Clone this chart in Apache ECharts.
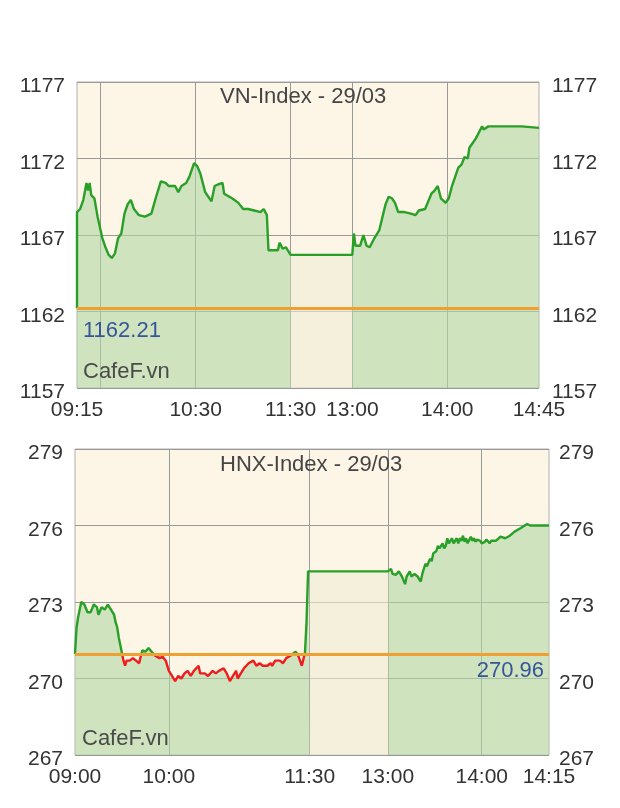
<!DOCTYPE html>
<html><head><meta charset="utf-8">
<script src="https://cdn.jsdelivr.net/npm/echarts@6/dist/echarts.min.js"></script>
<style>html,body{margin:0;padding:0;background:#fff}#c{width:620px;height:808px}</style>
</head><body><div id="c"></div>
<script>
// ---------------- DATA ----------------
const vnTitle = "VN-Index - 29/03";
const hnxTitle = "HNX-Index - 29/03";
const watermark = "CafeF.vn";
const vnRef = 1162.21;
const hnxRef = 270.96;

const vnTimes = [
 "09:15","09:15","09:17","09:19","09:21","09:22","09:23","09:24","09:26","09:28",
 "09:31","09:33","09:35","09:37","09:39","09:41","09:43","09:45","09:47","09:49",
 "09:51","09:54","09:58","10:02","10:05","10:08","10:11","10:13","10:17","10:19",
 "10:21","10:24","10:26","10:29","10:31","10:33","10:34","10:36","10:38","10:40",
 "10:42","10:44","10:47","10:48","10:53","10:57","11:00","11:03","11:07","11:11",
 "11:13","11:15","11:16","11:18","11:22","11:23","11:25","11:27","11:30",
 "13:00","13:01","13:02","13:05","13:07","13:09","13:11","13:14","13:17","13:21",
 "13:23","13:25","13:27","13:29","13:33","13:37","13:40","13:42","13:46","13:48",
 "13:50","13:52","13:54","13:56","13:59","14:01","14:03","14:05","14:07","14:09",
 "14:11","14:13","14:14","14:16","14:18","14:21","14:22","14:23","14:26","14:47",
 "14:48","14:58"
];
const vnValues = [
 1162.21,1168.5,1168.7,1169.3,1170.4,1169.9,1170.4,1169.6,1169.4,1168.2,
 1166.8,1166.2,1165.7,1165.5,1165.8,1166.8,1167.1,1168.4,1169.0,1169.3,
 1168.7,1168.3,1168.2,1168.4,1169.5,1170.5,1170.4,1170.2,1170.2,1169.8,
 1170.2,1170.4,1170.8,1171.7,1171.5,1171.0,1171.1,1169.8,1169.5,1169.2,
 1170.2,1170.3,1170.4,1169.7,1169.4,1169.1,1168.7,1168.7,1168.6,1168.5,
 1168.7,1168.3,1166.0,1166.0,1166.0,1166.5,1166.1,1166.2,1165.7,
 1165.7,1167.1,1166.3,1166.3,1167.0,1166.3,1166.2,1166.8,1167.3,1169.0,
 1169.5,1169.4,1169.1,1168.5,1168.5,1168.4,1168.3,1168.6,1168.7,1169.2,
 1169.7,1169.9,1170.2,1169.4,1169.1,1169.4,1170.2,1170.8,1171.4,1171.6,
 1172.1,1172.0,1172.7,1173.0,1173.3,1173.9,1174.1,1173.9,1174.1,1174.1,
 1174.0,1174.0
];

const hnxTimes = [
 "09:00","09:01","09:02","09:04","09:06","09:08","09:10","09:12","09:14","09:15",
 "09:17","09:19","09:21","09:23","09:25","09:26","09:27","09:28","09:30","09:31",
 "09:32","09:33","09:35","09:37","09:39","09:41","09:42","09:43","09:45","09:47",
 "09:49","09:51","09:54","09:56","09:58","10:00","10:02","10:04","10:06","10:08",
 "10:10","10:12","10:14","10:16","10:19","10:20","10:23","10:25","10:28","10:30",
 "10:32","10:35","10:37","10:39","10:41","10:43","10:44","10:46","10:48","10:51",
 "10:54","10:56","10:58","11:00","11:03","11:05","11:06","11:08","11:11","11:13",
 "11:15","11:18","11:21","11:22","11:23","11:25","11:26","11:27","11:28","11:29",
 "11:30",
 "13:00","13:01","13:02","13:03","13:05","13:07","13:09","13:11","13:12","13:14",
 "13:15","13:17","13:19","13:21","13:22","13:24","13:25","13:27","13:28","13:29",
 "13:31","13:32","13:33","13:35","13:36","13:37","13:38","13:39","13:40","13:41",
 "13:42","13:43","13:44","13:45","13:46","13:47","13:48","13:49","13:50","13:51",
 "13:53","13:54","13:55","13:56","13:57","13:59","14:00","14:02","14:03","14:05",
 "14:06","14:09","14:12","14:15","14:18","14:21","14:25","14:27","14:29","14:31",
 "14:43"
];
const hnxValues = [
 270.96,272.0,272.4,273.0,272.9,272.6,272.6,272.9,272.8,272.5,
 272.8,272.7,272.9,272.7,272.5,272.2,272.0,271.6,271.0,270.7,
 270.5,270.7,270.7,270.8,270.7,270.6,270.86,271.1,271.05,271.2,
 271.05,270.9,270.8,270.85,270.7,270.3,270.1,269.9,270.1,270.0,
 270.2,270.3,270.1,270.3,270.5,270.2,270.2,270.1,270.3,270.2,
 270.3,270.4,270.2,269.9,270.1,270.3,270.0,270.2,270.4,270.6,
 270.7,270.5,270.6,270.5,270.5,270.6,270.5,270.7,270.7,270.6,
 270.8,270.9,271.05,270.96,270.85,270.5,270.5,271.0,272.2,274.2,
 274.2,
 274.2,274.2,274.3,274.1,274.06,274.2,274.0,273.7,274.0,274.2,
 274.0,274.1,274.0,273.8,274.1,274.5,274.4,274.7,274.6,274.9,
 275.0,275.2,275.1,275.3,275.1,275.2,275.5,275.3,275.4,275.5,
 275.3,275.36,275.5,275.3,275.5,275.4,275.6,275.36,275.5,275.3,
 275.56,275.4,275.5,275.36,275.45,275.4,275.3,275.36,275.45,275.3,
 275.4,275.4,275.56,275.5,275.6,275.76,275.9,275.98,276.06,276.0,
 276.0
];

// axis ticks / labels
const vnYTicks = [1157, 1162, 1167, 1172, 1177];
const hnxYTicks = [267, 270, 273, 276, 279];
const vnLabelTimes = ["09:15","10:30","11:30","13:00","14:00"];
const vnLastLabel = "14:45";
const vnGridTimes = ["09:30","10:30","11:30","13:00","14:00"];
const hnxLabelTimes = ["09:00","10:00","11:30","13:00","14:00"];
const hnxLastLabel = "14:15";
const hnxGridTimes = ["10:00","11:30","13:00","14:00"];

// session settings: open, lunch break shown width (minutes), axis end time
const vnSession = { open: "09:15", lunchWidth: 39, end: "14:58" };
const hnxSession = { open: "09:00", lunchWidth: 50, end: "14:43" };

// ---------------- HELPERS ----------------
function mins(t) { const p = t.split(':').map(Number); return p[0] * 60 + p[1]; }
function makeAxisMap(s) {
  const amEnd = mins("11:30"), pmStart = mins("13:00"), o = mins(s.open);
  return t => { const m = mins(t); return m <= amEnd ? m - o : (amEnd - o) + s.lunchWidth + (m - pmStart); };
}
const vnX = makeAxisMap(vnSession);
const hnxX = makeAxisMap(hnxSession);

function pairs(times, values, fx) { return times.map((t, i) => [fx(t), values[i]]); }
function morning(times, values, fx) { const r = []; times.forEach((t, i) => { if (mins(t) <= mins("11:30")) r.push([fx(t), values[i]]); }); return r; }
function afternoon(times, values, fx) { const r = []; times.forEach((t, i) => { if (mins(t) >= mins("13:00")) r.push([fx(t), values[i]]); }); return r; }
function lunch(times, values, fx) { const r = []; times.forEach((t, i) => { if (t === "11:30" || t === "13:00") r.push([fx(t), values[i]]); }); return r; }

const FONT = 'Liberation Sans, Arial, Helvetica, sans-serif';
const GREEN = '#28a028', RED = '#ee1c1c', ORANGE = '#f0a030', BLUE = '#37559a';
const GRIDLINE = '#999999';
const AREA_GREEN = 'rgba(176,215,165,0.6)';
const AREA_LUNCH = 'rgba(240,237,213,0.6)';

const grids = [
  { left: 77, right: 81, top: 82, height: 306 },
  { left: 75, right: 71, top: 449, height: 306 }
];

function xAxisCfg(gridIndex, fx, session, labelTimes, lastLabel, gridTimes) {
  const labelMap = {};
  labelTimes.forEach(t => { labelMap[String(fx(t))] = t; });
  const endV = fx(session.end);
  labelMap[String(endV)] = lastLabel;
  return {
    type: 'value', gridIndex, min: 0, max: endV,
    axisLine: { show: false },
    axisTick: { show: false, customValues: gridTimes.map(fx) },
    splitLine: { show: true, lineStyle: { color: GRIDLINE, width: 1 } },
    axisLabel: {
      customValues: labelTimes.map(fx).concat([endV]),
      formatter: v => labelMap[String(v)] || '',
      fontSize: 21, color: '#333', fontFamily: FONT, margin: 12
    }
  };
}
function yAxisCfg(gridIndex, ticks, pos, margin, split) {
  return {
    type: 'value', gridIndex, position: pos,
    min: ticks[0], max: ticks[ticks.length - 1], interval: ticks[1] - ticks[0],
    axisLine: { show: false }, axisTick: { show: false },
    splitLine: { show: split, lineStyle: { color: GRIDLINE, width: 1 } },
    axisLabel: { fontSize: 21, color: '#333', fontFamily: FONT, margin, verticalAlign: 'top', lineHeight: 9, formatter: v => String(v) }
  };
}
function areaSeries(data, xi, yi, color) {
  return { type: 'line', xAxisIndex: xi, yAxisIndex: yi, data, symbol: 'none', silent: true,
    lineStyle: { width: 0, opacity: 0 }, areaStyle: { color, opacity: 1, origin: 'start' }, z: 1 };
}
// line colour split at the reference value, in the grid's pixel space
function splitColor(g, ticks, ref, above, below) {
  const f = (ticks[ticks.length - 1] - ref) / (ticks[ticks.length - 1] - ticks[0]);
  return new echarts.graphic.LinearGradient(0, g.top, 0, g.top + g.height, [
    { offset: 0, color: above }, { offset: f, color: above },
    { offset: f, color: below }, { offset: 1, color: below }
  ], true);
}

const chart = echarts.init(document.getElementById('c'), null, { renderer: 'canvas' });
chart.setOption({
  animation: false,
  backgroundColor: '#ffffff',
  title: [
    { text: vnTitle, left: 220, top: 86, padding: 0, textStyle: { fontSize: 22, fontWeight: 'normal', color: '#454545', fontFamily: FONT } },
    { text: hnxTitle, left: 220, top: 454, padding: 0, textStyle: { fontSize: 22, fontWeight: 'normal', color: '#454545', fontFamily: FONT } },
    { text: watermark, left: 83, top: 361, padding: 0, textStyle: { fontSize: 22, fontWeight: 'normal', color: '#4a4a4a', fontFamily: FONT } },
    { text: watermark, left: 82, top: 728, padding: 0, textStyle: { fontSize: 22, fontWeight: 'normal', color: '#4a4a4a', fontFamily: FONT } }
  ],
  grid: grids.map(g => Object.assign({ show: true, backgroundColor: '#fdf5e6', borderColor: '#b0b0b0', borderWidth: 1 }, g)),
  xAxis: [
    xAxisCfg(0, vnX, vnSession, vnLabelTimes, vnLastLabel, vnGridTimes),
    xAxisCfg(1, hnxX, hnxSession, hnxLabelTimes, hnxLastLabel, hnxGridTimes)
  ],
  yAxis: [
    yAxisCfg(0, vnYTicks, 'left', 12, true),
    yAxisCfg(0, vnYTicks, 'right', 13, false),
    yAxisCfg(1, hnxYTicks, 'left', 12, true),
    yAxisCfg(1, hnxYTicks, 'right', 10, false)
  ],
  series: [
    // VN fills
    areaSeries(morning(vnTimes, vnValues, vnX), 0, 0, AREA_GREEN),
    areaSeries(afternoon(vnTimes, vnValues, vnX), 0, 0, AREA_GREEN),
    Object.assign(areaSeries(lunch(vnTimes, vnValues, vnX), 0, 0, AREA_LUNCH), {
      markLine: { silent: true, symbol: 'none', z: 6,
        lineStyle: { color: ORANGE, width: 3, type: 'solid' },
        label: { position: 'insideStartBottom', formatter: () => vnRef.toFixed(2), color: BLUE, fontSize: 22, fontFamily: FONT, distance: [6, 12] },
        data: [{ yAxis: vnRef }] }
    }),
    // VN line
    { type: 'line', xAxisIndex: 0, yAxisIndex: 0, data: pairs(vnTimes, vnValues, vnX), symbol: 'none', silent: true,
      lineStyle: { color: GREEN, width: 2.4 }, z: 3 },
    // HNX fills
    areaSeries(morning(hnxTimes, hnxValues, hnxX), 1, 2, AREA_GREEN),
    areaSeries(afternoon(hnxTimes, hnxValues, hnxX), 1, 2, AREA_GREEN),
    Object.assign(areaSeries(lunch(hnxTimes, hnxValues, hnxX), 1, 2, AREA_LUNCH), {
      markLine: { silent: true, symbol: 'none', z: 6,
        lineStyle: { color: ORANGE, width: 3, type: 'solid' },
        label: { position: 'insideEndBottom', formatter: () => hnxRef.toFixed(2), color: BLUE, fontSize: 22, fontFamily: FONT, distance: [5, 6] },
        data: [{ yAxis: hnxRef }] }
    }),
    // HNX line: green above the reference, red below
    { type: 'line', xAxisIndex: 1, yAxisIndex: 2, data: pairs(hnxTimes, hnxValues, hnxX), symbol: 'none', silent: true,
      lineStyle: { width: 2.4, color: splitColor(grids[1], hnxYTicks, hnxRef, GREEN, RED) }, z: 3 }
  ]
});
</script>
</body></html>
